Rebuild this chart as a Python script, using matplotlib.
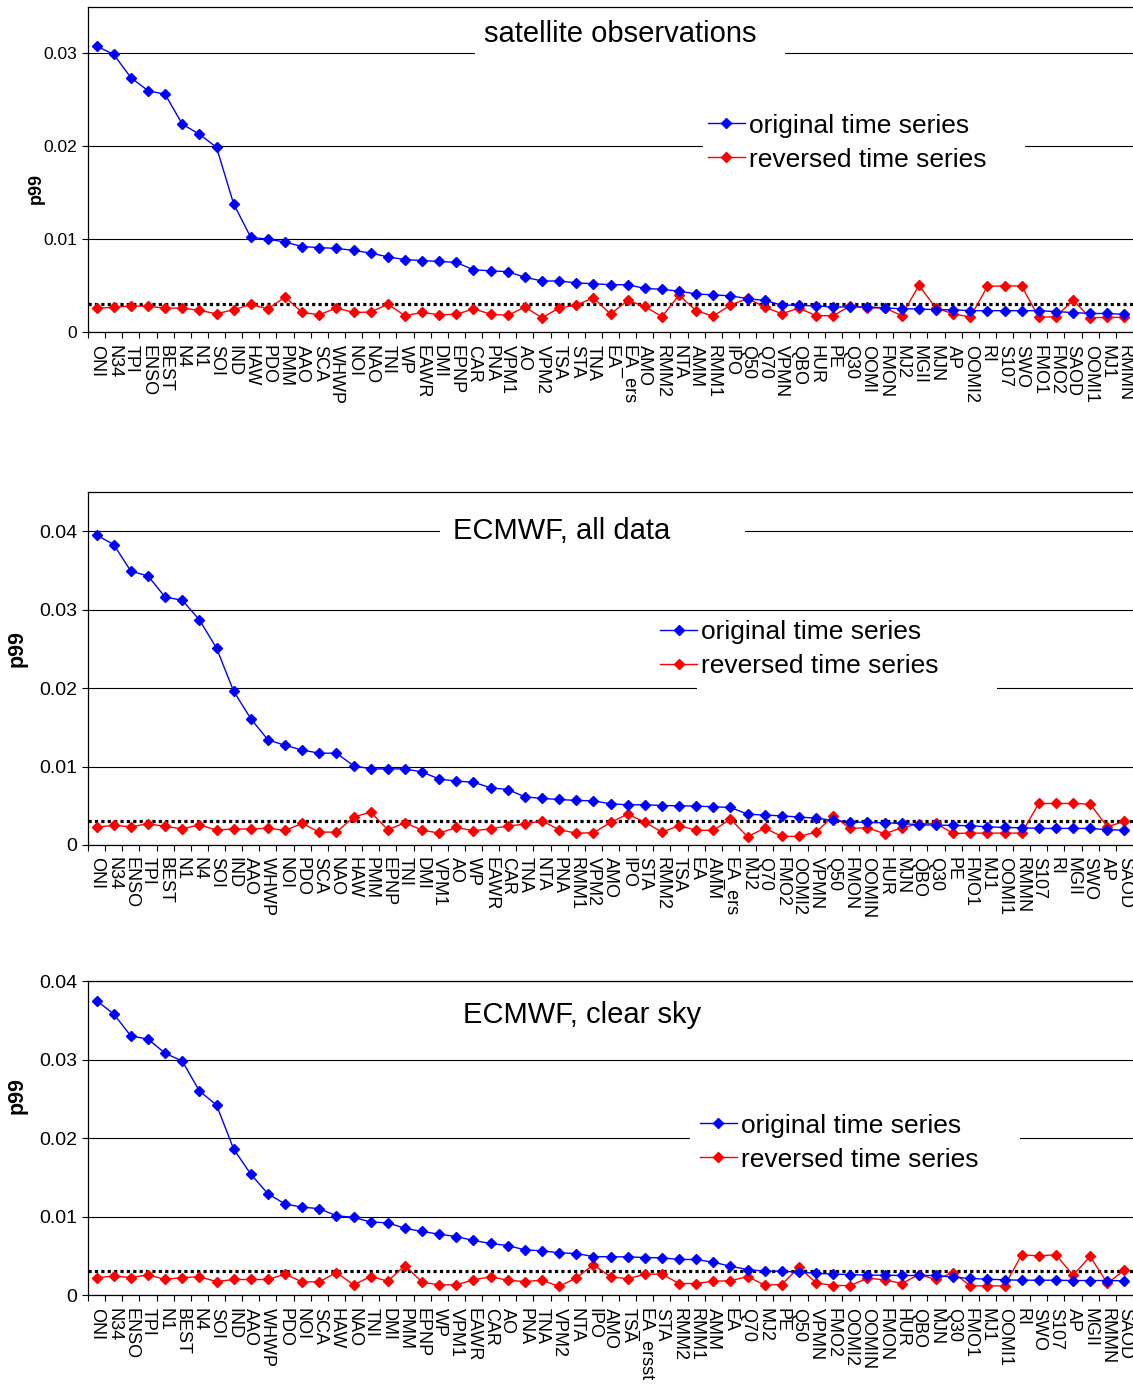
import numpy as np
import matplotlib
matplotlib.use("Agg")
import matplotlib.pyplot as plt
from matplotlib.patches import Rectangle

plt.rcParams['font.family'] = ['Liberation Sans', 'DejaVu Sans']

# p99 values, in units of 1e-3
labels_sat = ['ONI', 'N34', 'TPI', 'ENSO', 'BEST', 'N4', 'N1', 'SOI', 'IND', 'HAW',
              'PDO', 'PMM', 'AAO', 'SCA', 'WHWP', 'NOI', 'NAO', 'TNI', 'WP', 'EAWR',
              'DMI', 'EPNP', 'CAR', 'PNA', 'VPM1', 'AO', 'VPM2', 'TSA', 'STA', 'TNA',
              'EA', 'EA_ers', 'AMO', 'RMM2', 'NTA', 'AMM', 'RMM1', 'IPO', 'Q50', 'Q70',
              'VPMN', 'QBO', 'HUR', 'PE', 'Q30', 'OOMI', 'FMON', 'MJ2', 'MGII', 'MJN',
              'AP', 'OOMI2', 'RI', 'S107', 'SWO', 'FMO1', 'FMO2', 'SAOD', 'OOMI1', 'MJ1',
              'RMMN']
orig_sat = [30.8, 29.9, 27.4, 26.0, 25.6, 22.4, 21.3, 19.9, 13.8, 10.2,
            10.0, 9.7, 9.2, 9.1, 9.0, 8.8, 8.5, 8.1, 7.8, 7.7,
            7.6, 7.5, 6.7, 6.6, 6.5, 5.9, 5.5, 5.5, 5.3, 5.2,
            5.1, 5.1, 4.7, 4.6, 4.4, 4.1, 4.0, 3.9, 3.6, 3.4,
            2.9, 2.9, 2.8, 2.7, 2.7, 2.7, 2.6, 2.5, 2.5, 2.4,
            2.4, 2.3, 2.3, 2.3, 2.3, 2.3, 2.2, 2.1, 2.0, 2.0,
            1.9]
rev_sat = [2.58, 2.65, 2.83, 2.76, 2.58, 2.58, 2.33, 1.97, 2.40, 2.97,
           2.50, 3.76, 2.11, 1.86, 2.60, 2.11, 2.15, 3.00, 1.76, 2.11,
           1.86, 1.90, 2.50, 1.93, 1.79, 2.69, 1.54, 2.60, 2.90, 3.69,
           1.93, 3.40, 2.76, 1.65, 3.98, 2.29, 1.72, 2.90, 3.62, 2.69,
           1.97, 2.58, 1.76, 1.76, 2.83, 2.60, 2.60, 1.76, 5.02, 2.58,
           1.97, 1.61, 4.91, 4.98, 4.95, 1.58, 1.65, 3.44, 1.54, 1.58,
           1.58]

labels_all = ['ONI', 'N34', 'ENSO', 'TPI', 'BEST', 'N1', 'N4', 'SOI', 'IND', 'AAO',
              'WHWP', 'NOI', 'PDO', 'SCA', 'NAO', 'HAW', 'PMM', 'EPNP', 'TNI', 'DMI',
              'VPM1', 'AO', 'WP', 'EAWR', 'CAR', 'TNA', 'NTA', 'PNA', 'RMM1', 'VPM2',
              'AMO', 'IPO', 'STA', 'RMM2', 'TSA', 'EA', 'AMM', 'EA_ers', 'MJ2', 'Q70',
              'FMO2', 'OOMI2', 'VPMN', 'Q50', 'FMON', 'OOMIN', 'HUR', 'MJN', 'QBO', 'Q30',
              'PE', 'FMO1', 'MJ1', 'OOMI1', 'RMMN', 'S107', 'RI', 'MGII', 'SWO', 'AP',
              'SAOD']
orig_all = [39.5, 38.3, 34.9, 34.3, 31.6, 31.2, 28.7, 25.1, 19.6, 16.1,
            13.4, 12.7, 12.1, 11.7, 11.7, 10.1, 9.7, 9.7, 9.7, 9.3,
            8.4, 8.14, 8.0, 7.29, 7.07, 6.14, 5.93, 5.8, 5.67, 5.63,
            5.25, 5.12, 5.12, 5.03, 4.99, 4.95, 4.87, 4.78, 3.93, 3.8,
            3.72, 3.55, 3.42, 3.12, 2.95, 2.87, 2.83, 2.74, 2.57, 2.53,
            2.49, 2.45, 2.32, 2.23, 2.19, 2.11, 2.11, 2.11, 2.11, 1.94,
            1.89]
rev_all = [2.28, 2.49, 2.32, 2.70, 2.36, 2.06, 2.57, 1.89, 2.06, 2.02,
           2.15, 1.85, 2.74, 1.64, 1.64, 3.55, 4.19, 1.94, 2.83, 1.89,
           1.51, 2.23, 1.81, 2.06, 2.40, 2.66, 3.08, 1.94, 1.51, 1.55,
           2.87, 3.93, 2.91, 1.64, 2.45, 1.89, 1.85, 3.30, 1.04, 2.15,
           1.09, 1.09, 1.64, 3.68, 2.11, 2.19, 1.43, 2.19, 2.70, 2.74,
           1.47, 1.51, 1.51, 1.51, 1.51, 5.29, 5.29, 5.29, 5.20, 2.32,
           3.00]

labels_clear = ['ONI', 'N34', 'ENSO', 'TPI', 'N1', 'BEST', 'N4', 'SOI', 'IND', 'AAO',
                'WHWP', 'PDO', 'NOI', 'SCA', 'HAW', 'NAO', 'TNI', 'DMI', 'PMM', 'EPNP',
                'WP', 'VPM1', 'EAWR', 'CAR', 'AO', 'PNA', 'TNA', 'VPM2', 'NTA', 'IPO',
                'AMO', 'TSA', 'EA_ersst', 'STA', 'RMM2', 'RMM1', 'AMM', 'EA', 'Q70', 'MJ2',
                'PE', 'Q50', 'VPMN', 'FMO2', 'OOMI2', 'OOMIN', 'FMON', 'HUR', 'QBO', 'MJN',
                'Q30', 'FMO1', 'MJ1', 'OOMI1', 'RI', 'SWO', 'S107', 'AP', 'MGII', 'RMMN',
                'SAOD']
orig_clear = [37.5, 35.8, 33.0, 32.6, 30.8, 29.8, 26.0, 24.2, 18.6, 15.4,
              12.9, 11.6, 11.2, 11.0, 10.1, 9.9, 9.3, 9.2, 8.5, 8.1,
              7.75, 7.45, 6.95, 6.57, 6.3, 5.76, 5.63, 5.38, 5.29, 4.9,
              4.87, 4.87, 4.78, 4.74, 4.53, 4.53, 4.18, 3.67, 3.25, 3.04,
              3.04, 2.91, 2.78, 2.66, 2.61, 2.53, 2.53, 2.49, 2.49, 2.49,
              2.28, 2.11, 2.02, 1.94, 1.89, 1.89, 1.89, 1.85, 1.85, 1.85,
              1.81]
rev_clear = [2.23, 2.40, 2.23, 2.57, 1.98, 2.23, 2.32, 1.72, 1.98, 1.98,
             1.98, 2.66, 1.68, 1.68, 2.87, 1.30, 2.36, 1.77, 3.76, 1.64,
             1.30, 1.30, 1.94, 2.32, 1.89, 1.72, 1.89, 1.09, 2.19, 3.84,
             2.36, 2.06, 2.66, 2.66, 1.47, 1.47, 1.77, 1.81, 2.36, 1.26,
             1.34, 3.55, 1.55, 1.21, 1.21, 2.14, 1.94, 1.47, 2.61, 1.98,
             2.87, 1.17, 1.17, 1.17, 5.12, 5.00, 5.12, 2.53, 4.91, 1.51,
             3.17]

threshold = 0.003

panels = [
    dict(title='satellite observations', labels=labels_sat, orig=orig_sat, rev=rev_sat,
         rect=[0.0777, 0.7606, 0.9223, 0.2343], ymax=0.035, yticks=[0, 0.01, 0.02, 0.03],
         tick_fs=12.5, ylab_fs=13, ylab_xy=(-0.041, 0.443),
         title_xy=(0.509, 0.917), title_gap=(0.370, 0.837, 0.297, 0.15),
         leg_xy=(0.5933, 0.583), leg_gap=(0.5885, 0.483, 0.308, 0.206)),
    dict(title='ECMWF, all data', labels=labels_all, orig=orig_all, rev=rev_all,
         rect=[0.0777, 0.3908, 0.9223, 0.2545], ymax=0.045, yticks=[0, 0.01, 0.02, 0.03, 0.04],
         tick_fs=14, ylab_fs=15.5, ylab_xy=(-0.058, 0.555),
         title_xy=(0.4536, 0.8895), title_gap=(0.337, 0.841, 0.292, 0.102),
         leg_xy=(0.5474, 0.5538), leg_gap=(0.583, 0.411, 0.287, 0.18)),
    dict(title='ECMWF, clear sky', labels=labels_clear, orig=orig_clear, rev=rev_clear,
         rect=[0.0777, 0.0663, 0.9223, 0.2264], ymax=0.04, yticks=[0, 0.01, 0.02, 0.03, 0.04],
         tick_fs=14, ylab_fs=15.5, ylab_xy=(-0.058, 0.634),
         title_xy=(0.4727, 0.8917), title_gap=None,
         leg_xy=(0.5856, 0.4857), leg_gap=(0.576, 0.382, 0.316, 0.207)),
]

fig = plt.figure(figsize=(11.33, 13.87), dpi=100)

for p in panels:
    ax = fig.add_axes(p['rect'])
    n = len(p['labels'])
    x = np.arange(n)
    orig = np.array(p['orig']) * 1e-3
    rev = np.array(p['rev']) * 1e-3

    ax.set_axisbelow(True)
    ax.yaxis.grid(True, color='black', linewidth=0.8)
    ax.set_xlim(-0.5, n - 0.5)
    ax.set_ylim(0, p['ymax'])

    # white boxes behind the title and legend break the gridlines
    if p['title_gap'] is not None:
        gx, gy, gw, gh = p['title_gap']
        ax.add_patch(Rectangle((gx, gy), gw, gh, transform=ax.transAxes,
                               facecolor='white', edgecolor='none', zorder=1))
    gx, gy, gw, gh = p['leg_gap']
    ax.add_patch(Rectangle((gx, gy), gw, gh, transform=ax.transAxes,
                           facecolor='white', edgecolor='none', zorder=1))

    ax.axhline(threshold, color='black', linestyle=(0, (1, 1)), linewidth=2.3, zorder=2)
    ax.plot(x, orig, color='#0000ff', marker='D', markersize=5, linewidth=1.0,
            label='original time series', zorder=4)
    ax.plot(x, rev, color='#ff0000', marker='D', markersize=5, linewidth=1.0,
            label='reversed time series', zorder=3)

    ax.text(p['title_xy'][0], p['title_xy'][1], p['title'], transform=ax.transAxes,
            ha='center', va='center', fontsize=21, zorder=5)

    ax.legend(loc='center left', bbox_to_anchor=p['leg_xy'], frameon=False,
              fontsize=19, handlelength=1.4, handletextpad=0.15, labelspacing=0.38,
              borderpad=0, borderaxespad=0)

    ax.set_xticks(x)
    ax.set_xticklabels(p['labels'], rotation=270, ha='center', va='top', fontsize=13)
    ax.set_xticks(np.arange(-0.5, n, 1), minor=True)
    ax.tick_params(axis='x', which='major', length=0, pad=9)
    ax.tick_params(axis='x', which='minor', length=4, width=0.8, direction='out')

    ax.set_yticks(p['yticks'])
    ax.set_yticklabels(['0' if v == 0 else f'{v:.2f}' for v in p['yticks']],
                       fontsize=p['tick_fs'])
    ax.tick_params(axis='y', length=4, width=0.8, direction='out', pad=4)

    ax.set_ylabel('p99', fontsize=p['ylab_fs'], fontweight='bold')
    ax.yaxis.set_label_coords(*p['ylab_xy'])

    ax.spines['right'].set_visible(False)
    for s in ['left', 'bottom', 'top']:
        ax.spines[s].set_linewidth(0.9)

fig.savefig('out.png', dpi=100)
